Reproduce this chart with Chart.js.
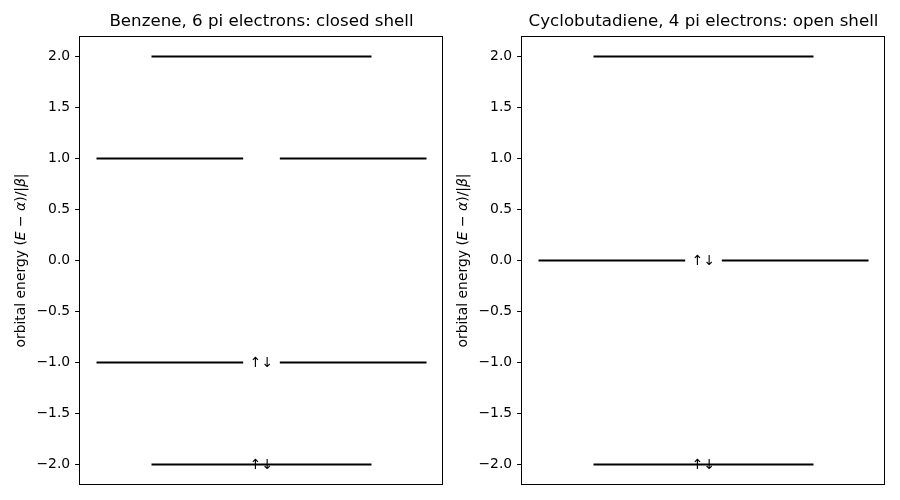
<!DOCTYPE html>
<html>
<head>
<meta charset="utf-8">
<script src="https://cdn.jsdelivr.net/npm/chart.js@4.4.0/dist/chart.umd.min.js"></script>
<style>
html,body{margin:0;padding:0;background:#fff;}
#wrap{position:relative;width:900px;height:500px;}
.box{position:absolute;top:0;width:450px;height:500px;}
</style>
</head>
<body>
<div id="wrap">
  <div class="box" style="left:0"><canvas id="c1" width="450" height="500"></canvas></div>
  <div class="box" style="left:450px"><canvas id="c2" width="450" height="500"></canvas></div>
</div>
<script>
// ---- data ----
const benzeneTitle = 'Benzene, 6 pi electrons: closed shell';
const benzeneLevels = [2, 1, -1, -2];
const benzeneDegeneracy = [1, 2, 2, 1];
const benzeneElectrons = ['', '', '↑↓', '↑↓'];

const cbdTitle = 'Cyclobutadiene, 4 pi electrons: open shell';
const cbdLevels = [2, 0, -2];
const cbdDegeneracy = [1, 2, 1];
const cbdElectrons = ['', '↑↓', '↑↓'];

const yTicks = [-2, -1.5, -1, -0.5, 0, 0.5, 1, 1.5, 2];

// ---- helpers ----
const FONT = "'DejaVu Sans', sans-serif";

function segmentsFor(levels, degeneracy) {
  const ds = [];
  levels.forEach((e, i) => {
    const spans = degeneracy[i] === 1 ? [[-0.6, 0.6]] : [[-0.9, -0.1], [0.1, 0.9]];
    spans.forEach(s => {
      ds.push({
        data: [{x: s[0], y: e}, {x: s[1], y: e}],
        showLine: true, borderColor: '#000', borderWidth: 2,
        pointRadius: 0, pointHoverRadius: 0, fill: false
      });
    });
  });
  return ds;
}

function fmt(v) {
  const s = Math.abs(v).toFixed(1);
  return v < 0 ? '\u2212' + s : s;
}

function makeChart(id, title, levels, degeneracy, electrons, yWidth, padRight) {
  const extras = {
    id: 'extras',
    afterDraw(chart) {
      const ctx = chart.ctx, a = chart.chartArea;
      const xs = chart.scales.x, ys = chart.scales.y;
      ctx.save();
      // frame
      ctx.strokeStyle = '#000'; ctx.lineWidth = 1;
      ctx.strokeRect(Math.round(a.left) - 0.5, Math.round(a.top) + 0.5,
                     Math.round(a.right - a.left), Math.round(a.bottom - a.top) - 1);
      // title
      ctx.fillStyle = '#000';
      ctx.font = '16.67px ' + FONT;
      ctx.textAlign = 'center'; ctx.textBaseline = 'middle';
      ctx.fillText(title, (a.left + a.right) / 2, 22);
      // electron labels
      ctx.font = '13.9px ' + FONT;
      levels.forEach((e, i) => {
        if (electrons[i]) ctx.fillText(electrons[i], xs.getPixelForValue(0), ys.getPixelForValue(e) + 1);
      });
      // y label with math italics
      const parts = [
        ['orbital energy (', false], ['E', true], [' \u2212 ', false], ['\u03b1', true],
        [')/|', false], ['\u03b2', true], ['|', false]
      ];
      const size = 13.9;
      let total = 0;
      parts.forEach(p => { ctx.font = (p[1] ? 'italic ' : '') + size + 'px ' + FONT; p.push(ctx.measureText(p[0]).width); total += p[2]; });
      ctx.translate(a.left - 59, (a.top + a.bottom) / 2);
      ctx.rotate(-Math.PI / 2);
      ctx.textAlign = 'left';
      let x = -total / 2;
      parts.forEach(p => { ctx.font = (p[1] ? 'italic ' : '') + size + 'px ' + FONT; ctx.fillText(p[0], x, 0); x += p[2]; });
      ctx.restore();
    }
  };
  return new Chart(document.getElementById(id), {
    type: 'scatter',
    data: { datasets: segmentsFor(levels, degeneracy) },
    options: {
      responsive: false, animation: false, devicePixelRatio: 1,
      layout: { padding: { top: 36, bottom: 15, left: 0, right: padRight } },
      plugins: { legend: { display: false }, tooltip: { enabled: false }, title: { display: false } },
      scales: {
        x: { type: 'linear', min: -0.99, max: 0.99, display: false },
        y: {
          type: 'linear', min: -2.2, max: 2.2,
          afterBuildTicks(s) { s.ticks = yTicks.map(v => ({ value: v })); },
          afterFit(s) { s.width = yWidth; },
          ticks: { color: '#000', font: { family: FONT, size: 13.9 }, padding: 4.9, callback: v => fmt(v), autoSkip: false },
          grid: { display: true, drawOnChartArea: false, drawTicks: true, tickLength: 4.9, color: '#000', lineWidth: 1 },
          border: { display: false }
        }
      }
    },
    plugins: [extras]
  });
}

makeChart('c1', benzeneTitle, benzeneLevels, benzeneDegeneracy, benzeneElectrons, 80, 7);
makeChart('c2', cbdTitle, cbdLevels, cbdDegeneracy, cbdElectrons, 72, 15);
</script>
</body>
</html>
